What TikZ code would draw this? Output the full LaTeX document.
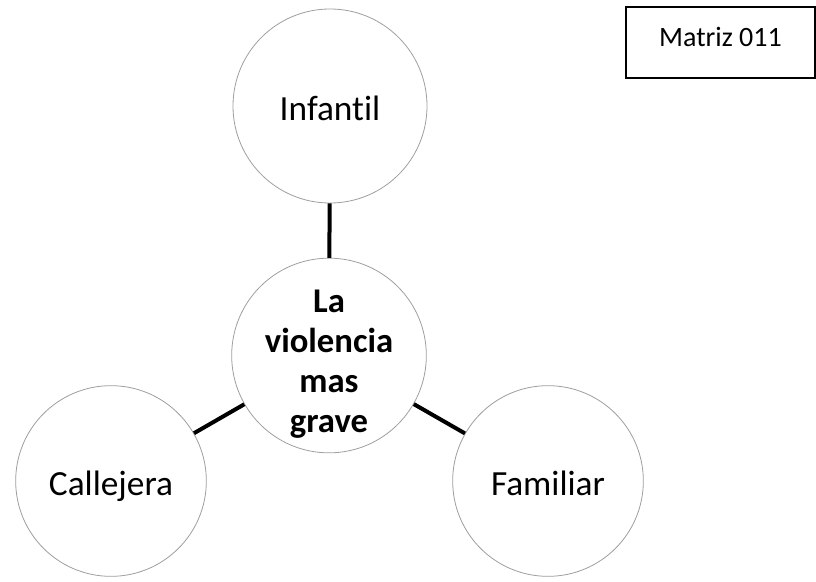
\documentclass[tikz,border=0pt]{standalone}
\usepackage{fontspec}
\setmainfont{Carlito}[Ligatures=CommonOff]

\begin{document}
\begin{tikzpicture}[x=0.75pt,y=-0.75pt,
  tema/.style={circle,draw=gray!75,line width=0.6pt,fill=white,minimum size=145.5pt,inner sep=0pt,
    text height=21.5pt,text depth=0pt,font=\fontsize{26.5}{30}\selectfont},
  nucleo/.style={circle,draw=gray!75,line width=0.6pt,minimum size=146pt,inner sep=0pt},
  enlace/.style={line width=3pt}]
\useasboundingbox (0,0) rectangle (816,581);

% centro y sus tres ramas
\node[nucleo] (violencia) at (329,355.5) {};
\node[align=center,font=\bfseries\fontsize{26}{30}\selectfont] (violenciatexto) at (329,364) {La\\violencia\\mas\\grave};
\node[tema] (infantil) at (330,106) {Infantil};
\node[tema,minimum size=143pt] (callejera) at (111,481) {Callejera};
\node[tema,minimum size=143pt] (familiar) at (548,481) {Familiar};

\draw[enlace] (infantil) -- (violencia);
\draw[enlace] (callejera) -- (violencia);
\draw[enlace] (familiar) -- (violencia);

\node[draw,line width=1.2pt,minimum width=141.75pt,minimum height=53.25pt,
  text height=14pt,text depth=8pt,font=\fontsize{21}{25}\selectfont] (matriz) at (720.5,42.5) {Matriz 011};
\end{tikzpicture}
\end{document}
